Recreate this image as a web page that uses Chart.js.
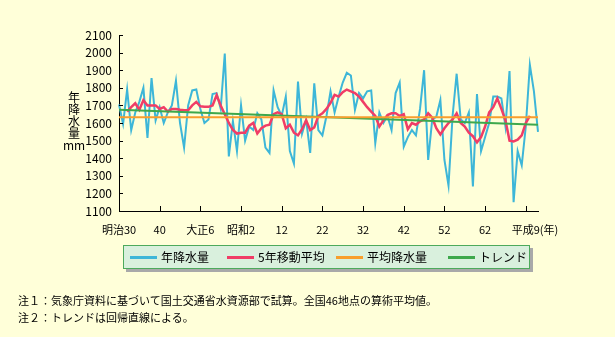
<!DOCTYPE html>
<html lang="ja">
<head>
<meta charset="utf-8">
<script src="https://cdn.jsdelivr.net/npm/chart.js@4/dist/chart.umd.min.js"></script>
<style>
  html, body { margin: 0; padding: 0; background: #FFFFD9; }
  #wrap { position: relative; width: 615px; height: 337px; overflow: hidden;
          font-family: 'Noto Sans CJK JP', sans-serif; color: #000; }
  #myChart { position: absolute; left: 0; top: 0; }
  #ytitle { position: absolute; left: 54px; top: 91px; width: 40px; text-align: center;
            font-size: 12px; line-height: 12px; }
  #legend { position: absolute; left: 123px; top: 245px; width: 405px; height: 22px;
            background: #D9F0DD; border: 1px solid #4DAA5C; box-shadow: 3px 3px 0 #A9A9A9; }
  .item { position: absolute; top: 0; height: 22px; font-size: 12px; line-height: 22px; white-space: nowrap; }
  .item .line { position: absolute; left: 0; top: 10px; width: 27px; height: 3px; }
  .item .txt { position: absolute; left: 31px; top: 0; }
  .note { position: absolute; left: 18px; font-size: 11px; line-height: 14px; white-space: nowrap; }
</style>
</head>
<body>
<div id="wrap">
  <canvas id="myChart" width="615" height="337"></canvas>
  <div id="ytitle">年<br>降<br>水<br>量<br>mm</div>
  <div id="legend"></div>
  <div class="note" style="top:293px">注１：気象庁資料に基づいて国土交通省水資源部で試算。全国46地点の算術平均値。</div>
  <div class="note" style="top:310px">注２：トレンドは回帰直線による。</div>
</div>
<script>
// years 1897 (明治30) - 2000
const years = [
  1897, 1898, 1899, 1900, 1901, 1902, 1903, 1904, 1905, 1906,
  1907, 1908, 1909, 1910, 1911, 1912, 1913, 1914, 1915, 1916,
  1917, 1918, 1919, 1920, 1921, 1922, 1923, 1924, 1925, 1926,
  1927, 1928, 1929, 1930, 1931, 1932, 1933, 1934, 1935, 1936,
  1937, 1938, 1939, 1940, 1941, 1942, 1943, 1944, 1945, 1946,
  1947, 1948, 1949, 1950, 1951, 1952, 1953, 1954, 1955, 1956,
  1957, 1958, 1959, 1960, 1961, 1962, 1963, 1964, 1965, 1966,
  1967, 1968, 1969, 1970, 1971, 1972, 1973, 1974, 1975, 1976,
  1977, 1978, 1979, 1980, 1981, 1982, 1983, 1984, 1985, 1986,
  1987, 1988, 1989, 1990, 1991, 1992, 1993, 1994, 1995, 1996,
  1997, 1998, 1999, 2000
];

// 年降水量 (mm)
const rainfall = [
  1705, 1595, 1790, 1560, 1660, 1720, 1800, 1515, 1855, 1615,
  1690, 1600, 1660, 1700, 1840, 1600, 1460, 1700, 1785, 1790,
  1680, 1600, 1620, 1765, 1770, 1680, 1995, 1410, 1610, 1440,
  1700, 1500, 1580, 1560, 1655, 1620, 1460, 1430, 1785, 1690,
  1640, 1750, 1440, 1370, 1835, 1540, 1620, 1430, 1825, 1560,
  1530, 1640, 1780, 1660, 1750, 1830, 1885, 1870, 1675, 1770,
  1740, 1780, 1785, 1485, 1660, 1600, 1640, 1560, 1770, 1830,
  1465, 1520, 1560, 1530, 1680, 1900, 1390, 1620, 1635, 1730,
  1390, 1245, 1640, 1880, 1620, 1600, 1660, 1240, 1765, 1440,
  1520, 1600, 1750, 1750, 1740, 1580, 1895, 1150, 1440, 1360,
  1580, 1930, 1780, 1550
];

// 5年移動平均, 1899 - 1998
const maStartYear = 1899;
const movingAvg = [
  1665, 1690, 1712, 1675, 1730, 1700, 1700, 1700, 1680, 1690,
  1665, 1680, 1680, 1675, 1672, 1672, 1700, 1720, 1695, 1692,
  1692, 1700, 1758, 1700, 1650, 1600, 1560, 1540, 1545, 1545,
  1585, 1600, 1540, 1570, 1585, 1590, 1650, 1660, 1650, 1570,
  1590, 1545, 1530, 1565, 1615, 1560, 1575, 1640, 1655, 1680,
  1715, 1760, 1750, 1775, 1790, 1780, 1770, 1750, 1720, 1690,
  1665, 1640, 1580, 1615, 1645, 1655, 1655, 1640, 1650, 1565,
  1600, 1590, 1610, 1620, 1655, 1630, 1570, 1535, 1570, 1600,
  1620, 1655, 1600, 1580, 1545, 1525, 1490, 1520, 1580, 1660,
  1690, 1740, 1680, 1615, 1500, 1495, 1505, 1530, 1600, 1640
];

// 平均降水量 and trend line end points (first year, last year)
const avgRainfall = 1632;
const trendEnds = [1675, 1590];

// x tick labels
const xTickYears = [1897, 1907, 1917, 1927, 1937, 1947, 1957, 1967, 1977, 1987, 1997];
const xTickLabels = ['明治30', '40', '大正6', '昭和2', '12', '22', '32', '42', '52', '62', '平成9(年)'];

const seriesNames = ['年降水量', '5年移動平均', '平均降水量', 'トレンド'];
const COLORS = {
  blue: '#3DB6D8',
  red: '#F03D66',
  orange: '#F89E2C',
  green: '#3EA84C'
};

const FONT = "'Noto Sans CJK JP', sans-serif";

const lastIdx = years.length - 1;
const maData = years.map(yr => {
  const k = yr - maStartYear;
  return k >= 0 && k < movingAvg.length ? movingAvg[k] : null;
});
const avgData = years.map(() => avgRainfall);
const trendData = years.map((_, i) => i === 0 ? trendEnds[0] : (i === lastIdx ? trendEnds[1] : null));

// inward tick marks and x tick labels
const axisDecor = {
  id: 'axisDecor',
  afterDraw(chart) {
    const { ctx, chartArea, scales: { x, y } } = chart;
    ctx.save();
    ctx.strokeStyle = '#000';
    ctx.lineWidth = 1;
    ctx.beginPath();
    y.ticks.forEach(t => {
      const py = Math.round(y.getPixelForValue(t.value)) + 0.5;
      ctx.moveTo(chartArea.left, py);
      ctx.lineTo(chartArea.left + 4, py);
    });
    xTickYears.forEach(yr => {
      const px = Math.round(x.getPixelForValue(years.indexOf(yr))) + 0.5;
      ctx.moveTo(px, chartArea.bottom);
      ctx.lineTo(px, chartArea.bottom - 5);
    });
    ctx.stroke();

    ctx.font = '11px ' + FONT;
    ctx.fillStyle = '#000';
    ctx.textBaseline = 'middle';
    xTickYears.forEach((yr, k) => {
      const px = x.getPixelForValue(years.indexOf(yr));
      const label = xTickLabels[k];
      const cut = label.indexOf('(');
      const main = cut >= 0 ? label.slice(0, cut) : label;
      ctx.textAlign = 'center';
      ctx.fillText(main, px, chartArea.bottom + 19);
      if (cut >= 0) {
        ctx.textAlign = 'left';
        ctx.fillText(label.slice(cut), px + ctx.measureText(main).width / 2, chartArea.bottom + 19);
      }
    });
    ctx.restore();
  }
};

const config = {
  type: 'line',
  data: {
    labels: years,
    datasets: [
      { label: seriesNames[0], data: rainfall, borderColor: COLORS.blue, backgroundColor: COLORS.blue,
        borderWidth: 2, order: 4 },
      { label: seriesNames[1], data: maData, borderColor: COLORS.red, backgroundColor: COLORS.red,
        borderWidth: 2.5, order: 3 },
      { label: seriesNames[2], data: avgData, borderColor: COLORS.orange, backgroundColor: COLORS.orange,
        borderWidth: 2, order: 1 },
      { label: seriesNames[3], data: trendData, borderColor: COLORS.green, backgroundColor: COLORS.green,
        borderWidth: 2, spanGaps: true, order: 2 }
    ]
  },
  options: {
    responsive: false,
    animation: false,
    layout: { padding: { left: 0, top: 35, right: 77, bottom: 126 } },
    elements: { point: { radius: 0 }, line: { tension: 0 } },
    plugins: {
      legend: { display: false },
      tooltip: { enabled: false }
    },
    scales: {
      x: {
        type: 'category',
        offset: false,
        grid: { display: false, drawTicks: false },
        border: { display: true, color: '#000', width: 1 },
        ticks: { display: false },
        afterFit(scale) { scale.height = 0; }
      },
      y: {
        min: 1100,
        max: 2100,
        grid: { display: false, drawTicks: false },
        border: { display: true, color: '#000', width: 1 },
        ticks: {
          stepSize: 100,
          padding: 7,
          color: '#000',
          font: { family: FONT, size: 12 },
          callback: v => String(v)
        },
        afterFit(scale) { scale.width = 119; }
      }
    }
  },
  plugins: [axisDecor]
};

// html legend built from the datasets
const legendLefts = [6, 103, 212, 324];
function buildLegend(chart) {
  const box = document.getElementById('legend');
  box.innerHTML = '';
  chart.data.datasets.forEach((ds, i) => {
    const item = document.createElement('div');
    item.className = 'item';
    item.style.left = legendLefts[i] + 'px';
    const line = document.createElement('span');
    line.className = 'line';
    line.style.background = ds.borderColor;
    const txt = document.createElement('span');
    txt.className = 'txt';
    txt.textContent = ds.label;
    item.appendChild(line);
    item.appendChild(txt);
    box.appendChild(item);
  });
}

window.onload = function() {
  const ctx = document.getElementById('myChart').getContext('2d');
  const chart = new Chart(ctx, config);
  buildLegend(chart);
};
</script>
</body>
</html>
